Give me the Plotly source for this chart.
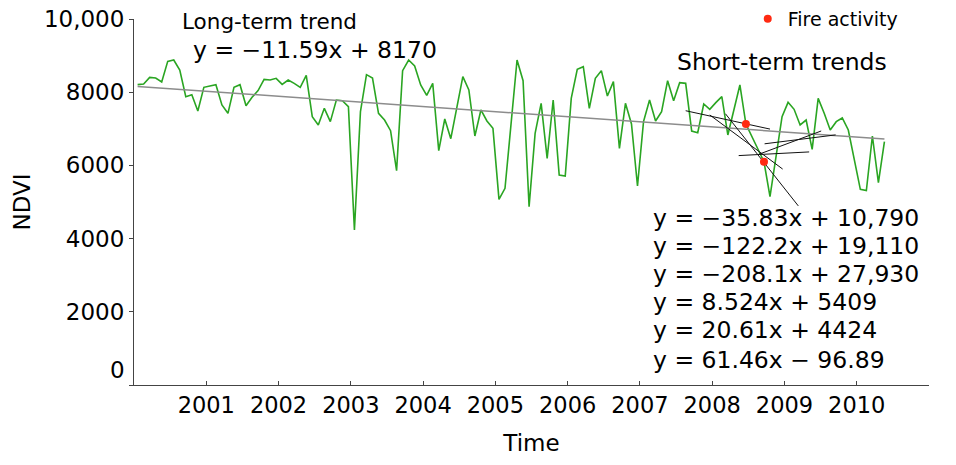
import plotly.graph_objects as go

# ---- data ----
ndvi = [8206, 8224, 8406, 8388, 8279, 8843, 8880, 8607, 7878, 7933, 7486, 8133,
        8169, 8206, 7650, 7423, 8133, 8206, 7632, 7860, 8042, 8351, 8333, 8379,
        8215, 8333, 8242, 8133, 8461, 7332, 7104, 7559, 7195, 7787, 7769, 7605,
        4235, 7468, 8479, 8388, 7423, 7240, 6949, 5856, 8588, 8880, 8716, 8197,
        7914, 8242, 6403, 7268, 6730, 7605, 8424, 8060, 6803, 7514, 7213, 7013,
        5073, 5373, 7240, 8880, 8315, 4872, 6876, 7696, 6193, 7787, 5738, 5710,
        7832, 8625, 8698, 7559, 8379, 8588, 7896, 8288, 6466, 7696, 7131, 5437,
        7195, 7787, 7213, 7468, 8315, 7769, 8260, 8242, 6940, 6894, 7678, 7532,
        7714, 7878, 6831, 7514, 8197, 7131, 6780, 6440, 6100, 5146, 6239, 7332,
        7723, 7532, 7104, 7240, 6439, 7832, 7423, 6967, 7195, 7295, 6967, 6148,
        5346, 5310, 6803, 5528, 6648]
month_index = list(range(1, len(ndvi) + 1))   # x of the fitted equations

long_slope, long_intercept = -11.59, 8170

short_slopes = [-35.83, -122.2, -208.1, 8.524, 20.61, 61.46]
short_intercepts = [10790, 19110, 27930, 5409, 4424, -96.89]
short_start = [92.0, 96.0, 98.6, 100.8, 105.1, 104.1]
short_end = [106.0, 108.1, 110.7, 112.5, 116.9, 114.5]
short_labels = ["y = −35.83x + 10,790", "y = −122.2x + 19,110",
                "y = −208.1x + 27,930", "y = 8.524x + 5409",
                "y = 20.61x + 4424", "y = 61.46x − 96.89"]

fire_index = [102, 105]

year_ticks = [2001, 2002, 2003, 2004, 2005, 2006, 2007, 2008, 2009, 2010, 2011]
year_labels = ["2001", "2002", "2003", "2004", "2005", "2006", "2007", "2008",
               "2009", "2010", ""]
y_ticks = [0, 2000, 4000, 6000, 8000, 10000]
y_labels = ["", "2000", "4000", "6000", "8000", "10,000"]


def to_year(i):
    return 2000 + (i - 0.4) / 12.0


FONT = "DejaVu Sans"
times = [to_year(i) for i in month_index]

fig = go.Figure()

fig.add_trace(go.Scatter(x=times, y=ndvi, mode="lines",
                         line=dict(color="#2aa522", width=1.6),
                         showlegend=False, hoverinfo="skip"))

lt_x = [month_index[0], month_index[-1]]
fig.add_trace(go.Scatter(x=[to_year(v) for v in lt_x],
                         y=[long_slope * v + long_intercept for v in lt_x],
                         mode="lines", line=dict(color="#8c8c8c", width=1.5),
                         showlegend=False))

for s, b, x0, x1 in zip(short_slopes, short_intercepts, short_start, short_end):
    fig.add_trace(go.Scatter(x=[to_year(x0), to_year(x1)],
                             y=[s * x0 + b, s * x1 + b], mode="lines",
                             line=dict(color="#111111", width=1),
                             showlegend=False))

fig.add_trace(go.Scatter(x=[to_year(i) for i in fire_index],
                         y=[ndvi[i - 1] for i in fire_index], mode="markers",
                         marker=dict(color="#ff2a12", size=8),
                         name="Fire activity", showlegend=True))

ann = [
    dict(text="Long-term trend", x=0.058, y=0.992, size=21.5),
    dict(text="y = −11.59x + 8170", x=0.072, y=0.915, size=23.5),
    dict(text="Short-term trends", x=0.681, y=0.883, size=23.5),
]
eq_y = [0.456, 0.380, 0.303, 0.227, 0.150, 0.068]
for t, yy in zip(short_labels, eq_y):
    ann.append(dict(text=t, x=0.650, y=yy, size=23.5))
annotations = []
for a in ann:
    sz = a.pop("size")
    annotations.append(dict(xref="paper", yref="paper", xanchor="left",
                            yanchor="middle", showarrow=False,
                            font=dict(family=FONT, size=sz, color="#000"), **a))
annotations.append(dict(xref="paper", yref="y", x=0, y=0, xanchor="right",
                        yanchor="middle", xshift=-7, yshift=15, showarrow=False,
                        text="0", font=dict(family=FONT, size=23, color="#000")))

fig.update_layout(
    width=956, height=465,
    margin=dict(l=134, r=27, t=19, b=80, autoexpand=False),
    paper_bgcolor="white", plot_bgcolor="white",
    font=dict(family=FONT, size=20, color="#000"),
    annotations=annotations,
    legend=dict(x=0.772, y=1.0, xanchor="left", yanchor="middle",
                bgcolor="rgba(0,0,0,0)", font=dict(size=19, family=FONT),
                itemwidth=30),
    xaxis=dict(range=[2000, 2011], tickvals=year_ticks, ticktext=year_labels,
               showgrid=False, zeroline=False, showline=True,
               linecolor="#444", linewidth=1, ticks="inside", ticklen=4,
               tickcolor="#444", ticklabeloverflow="allow",
               tickfont=dict(family=FONT, size=22.5),
               title=dict(text="Time", font=dict(family=FONT, size=23),
                          standoff=17)),
    yaxis=dict(range=[0, 10000], tickvals=y_ticks, ticktext=y_labels,
               showgrid=False, zeroline=False, showline=True,
               linecolor="#444", linewidth=1, ticks="outside", ticklen=4,
               tickcolor="#444", ticklabeloverflow="allow",
               tickfont=dict(family=FONT, size=23),
               title=dict(text="NDVI", font=dict(family=FONT, size=23),
                          standoff=6)),
)

fig.write_html("out.html", config={"displayModeBar": False},
               post_script="document.body.style.margin='0';")
